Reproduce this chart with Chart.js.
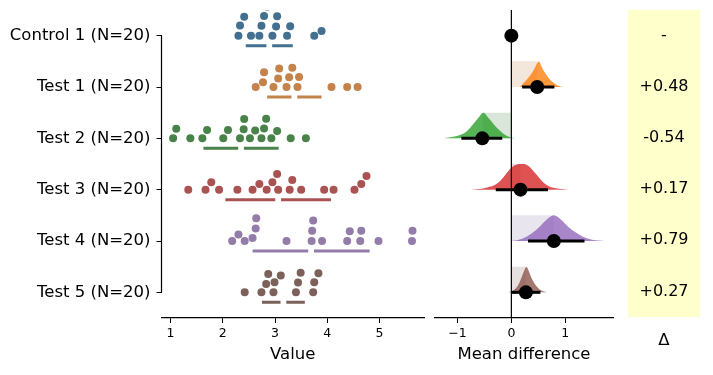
<!DOCTYPE html>
<html>
<head>
<meta charset="utf-8">
<script src="https://cdn.jsdelivr.net/npm/chart.js@4.4.1/dist/chart.umd.min.js"></script>
<style>
  body { margin: 0; background: #fff; }
  #wrap { position: relative; width: 713px; height: 375px; }
  canvas { position: absolute; top: 0; }
</style>
</head>
<body>
<div id="wrap">
  <canvas id="swarmChart" width="428" height="375" style="left:0px"></canvas>
  <canvas id="diffChart" width="192" height="375" style="left:428px"></canvas>
  <canvas id="deltaChart" width="93" height="375" style="left:620px"></canvas>
</div>
<script>
Chart.defaults.font.family = 'DejaVu Sans';
Chart.defaults.color = '#000';
Chart.defaults.animation = false;

// groups
var groupNames = ['Control 1', 'Test 1', 'Test 2', 'Test 3', 'Test 4', 'Test 5'];
var groupSizes = [20, 20, 20, 20, 20, 20];

var control1 = [2.30, 2.33, 2.41, 2.54, 2.70, 2.74, 2.79, 2.85, 2.95, 3.02, 3.04, 3.23, 3.29, 3.75, 3.89];
var test1 = [2.63, 2.77, 2.79, 2.97, 3.06, 3.08, 3.22, 3.27, 3.33, 3.43, 3.46, 4.08, 4.38, 4.58];
var test2 = [1.05, 1.11, 1.38, 1.61, 1.70, 2.01, 2.10, 2.33, 2.40, 2.41, 2.52, 2.62, 2.74, 2.79, 2.83, 2.93, 3.04, 3.30, 3.59];
var test3 = [1.34, 1.67, 1.78, 1.93, 2.28, 2.57, 2.70, 2.84, 2.95, 3.04, 3.06, 3.28, 3.33, 3.50, 3.94, 4.12, 4.52, 4.65, 4.75];
var test4 = [2.18, 2.30, 2.42, 2.57, 2.63, 2.64, 3.22, 3.70, 3.71, 3.73, 3.90, 4.38, 4.43, 4.63, 4.65, 4.98, 5.62, 5.63];
var test5 = [2.42, 2.74, 2.83, 2.87, 2.97, 2.99, 3.11, 3.40, 3.44, 3.49, 3.73, 3.75, 3.83];

// mean +/- sd per group
var groupMeans = [2.89, 3.37, 2.35, 3.06, 3.69, 3.16];
var groupSds = [0.45, 0.52, 0.72, 1.01, 1.12, 0.41];

// mean difference vs Control 1, with 95% CI
var meanDiffs = [0.48, -0.54, 0.17, 0.79, 0.27];
var ciLow = [0.20, -0.93, -0.29, 0.31, 0.00];
var ciHigh = [0.80, -0.17, 0.68, 1.36, 0.54];

// bootstrap distributions: [difference, relative density]
var dist1 = [[0.16, 0], [0.25, 0.2], [0.33, 0.4], [0.40, 0.6], [0.45, 0.8], [0.51, 1], [0.56, 0.8], [0.61, 0.6], [0.68, 0.38], [0.76, 0.2], [0.86, 0.06], [0.97, 0]];
var dist2 = [[-1.26, 0], [-1.08, 0.06], [-0.88, 0.2], [-0.80, 0.33], [-0.73, 0.5], [-0.62, 0.78], [-0.52, 1], [-0.42, 0.78], [-0.31, 0.5], [-0.23, 0.33], [-0.16, 0.2], [-0.05, 0.06], [0.08, 0]];
var dist3 = [[-0.75, 0], [-0.55, 0.04], [-0.42, 0.1], [-0.30, 0.19], [-0.20, 0.36], [-0.11, 0.58], [0.0, 0.85], [0.10, 0.98], [0.19, 1], [0.28, 0.97], [0.38, 0.8], [0.47, 0.58], [0.56, 0.36], [0.65, 0.19], [0.78, 0.07], [1.05, 0]];
var dist4 = [[-0.02, 0], [0.12, 0.04], [0.28, 0.17], [0.40, 0.33], [0.52, 0.55], [0.65, 0.82], [0.79, 1], [0.93, 0.82], [1.06, 0.55], [1.20, 0.33], [1.33, 0.17], [1.50, 0.05], [1.74, 0]];
var dist5 = [[-0.07, 0], [0.03, 0.07], [0.12, 0.26], [0.19, 0.58], [0.24, 0.85], [0.28, 1], [0.32, 0.85], [0.37, 0.58], [0.46, 0.26], [0.56, 0.07], [0.67, 0]];

var swarmValues = [control1, test1, test2, test3, test4, test5];
var dists = [dist1, dist2, dist3, dist4, dist5];

var swarmColors = ['rgb(68,112,143)', 'rgb(195,131,74)', 'rgb(73,131,73)', 'rgb(170,83,83)', 'rgb(147,125,168)', 'rgb(124,97,91)'];
var ghostColors = ['rgba(68,112,143,0.2)', 'rgba(195,131,74,0.2)', 'rgba(73,131,73,0.2)', 'rgba(170,83,83,0.2)', 'rgba(147,125,168,0.2)', 'rgba(124,97,91,0.2)'];
var violinColors = ['rgba(31,119,180,0.8)', 'rgba(255,127,14,0.8)', 'rgba(44,160,44,0.8)', 'rgba(214,39,40,0.8)', 'rgba(148,103,189,0.8)', 'rgba(140,86,75,0.8)'];

var PX_PER_VALUE = 52.27, PX_PER_ROW = 51.33;
var DOT = 8.2, STRETCH = 1.25;
var GAP = 0.055;       // half gap in the mean/sd bar
var VIOLIN_H = 0.5;    // violin peak height in row units

// one-sided beeswarm: stack dots upward, lowest free slot first
function swarmOffsets(values) {
    var order = values.map(function (v, i) { return i; })
        .sort(function (a, b) { return values[a] - values[b]; });
    var placed = [];
    var offs = [];
    order.forEach(function (i) {
        var x = values[i] * PX_PER_VALUE;
        var cands = [0];
        placed.forEach(function (p) {
            var dx = Math.abs(p.x - x);
            if (dx < DOT) cands.push(p.y + STRETCH * Math.sqrt(DOT * DOT - dx * dx));
        });
        cands.sort(function (a, b) { return a - b; });
        var y = cands.find(function (c) {
            return placed.every(function (p) {
                var dx = p.x - x, dy = (p.y - c) / STRETCH;
                return dx * dx + dy * dy >= DOT * DOT - 0.01;
            });
        });
        placed.push({ x: x, y: y });
        offs[i] = y / PX_PER_ROW;
    });
    return offs;
}

// ---------- left panel: swarm ----------
var swarmSets = [];
swarmValues.forEach(function (vals, g) {
    var offs = swarmOffsets(vals);
    swarmSets.push({
        type: 'scatter',
        data: vals.map(function (v, i) { return { x: v, y: g - offs[i] }; }),
        backgroundColor: swarmColors[g],
        borderWidth: 0,
        pointRadius: 4,
        order: 1
    });
    var m = groupMeans[g], s = groupSds[g], yb = g + 0.195;
    swarmSets.push({
        type: 'line',
        data: [{ x: m - s, y: yb }, { x: m - GAP, y: yb }, { x: m, y: null }, { x: m + GAP, y: yb }, { x: m + s, y: yb }],
        borderColor: swarmColors[g],
        borderWidth: 3,
        borderCapStyle: 'butt',
        pointRadius: 0,
        spanGaps: false,
        order: 2
    });
});

var leftSpine = {
    id: 'leftSpine',
    afterDraw: function (chart) {
        var ys = chart.scales.y, ctx = chart.ctx, x = chart.chartArea.left;
        ctx.save();
        ctx.strokeStyle = '#000';
        ctx.lineWidth = 1.2;
        ctx.beginPath();
        ctx.moveTo(x, ys.getPixelForValue(0));
        ctx.lineTo(x, ys.getPixelForValue(groupNames.length - 1));
        ctx.stroke();
        ctx.restore();
    }
};

new Chart(document.getElementById('swarmChart'), {
    type: 'scatter',
    data: { datasets: swarmSets },
    options: {
        responsive: false,
        devicePixelRatio: 1,
        layout: { padding: { top: 10, right: 4, left: 0, bottom: 0 } },
        plugins: { legend: { display: false }, tooltip: { enabled: false } },
        scales: {
            x: {
                type: 'linear', min: 0.828, max: 5.85,
                afterBuildTicks: function (scale) { scale.ticks = [1, 2, 3, 4, 5].map(function (v) { return { value: v }; }); },
                afterFit: function (scale) { scale.height = 57; scale.paddingLeft = 0; scale.paddingRight = 0; },
                grid: { drawOnChartArea: false, drawTicks: true, tickLength: 5, color: '#000' },
                border: { display: true, color: '#000', width: 1.2 },
                ticks: { font: { size: 12.5 }, padding: 3, autoSkip: false, maxRotation: 0 },
                title: { display: true, text: 'Value', font: { size: 16.5 }, padding: { top: 0, bottom: 10 } }
            },
            y: {
                type: 'linear', min: -0.5, max: 5.5, reverse: true,
                afterBuildTicks: function (scale) { scale.ticks = groupNames.map(function (n, i) { return { value: i }; }); },
                afterFit: function (scale) { scale.width = 161.5; scale.paddingTop = 0; scale.paddingBottom = 0; },
                grid: { drawOnChartArea: false, drawTicks: true, tickLength: 5, color: '#000' },
                border: { display: false },
                ticks: {
                    font: { size: 16.5 }, padding: 6, autoSkip: false,
                    callback: function (v) { return groupNames[v] + ' (N=' + groupSizes[v] + ')'; }
                }
            }
        }
    },
    plugins: [leftSpine]
});

// ---------- middle panel: mean differences ----------
var diffSets = [];
dists.forEach(function (d, k) {
    var row = k + 1;
    diffSets.push({
        type: 'line',
        data: [{ x: 0, y: row - VIOLIN_H }, { x: meanDiffs[k], y: row - VIOLIN_H }],
        borderColor: 'rgba(0,0,0,0)', borderWidth: 0, pointRadius: 0,
        fill: { value: row }, backgroundColor: ghostColors[row],
        order: 5
    });
    diffSets.push({
        type: 'line',
        data: d.map(function (p) { return { x: p[0], y: row - p[1] * VIOLIN_H }; }),
        borderColor: 'rgba(0,0,0,0)', borderWidth: 0, pointRadius: 0,
        cubicInterpolationMode: 'monotone',
        fill: { value: row }, backgroundColor: violinColors[row],
        order: 4
    });
    diffSets.push({
        type: 'line',
        data: [{ x: ciLow[k], y: row }, { x: ciHigh[k], y: row }],
        borderColor: '#000', borderWidth: 3, borderCapStyle: 'butt', pointRadius: 0,
        order: 2
    });
});
diffSets.push({
    type: 'line',
    data: [{ x: 0, y: -0.5 }, { x: 0, y: 5.5 }],
    borderColor: '#000', borderWidth: 1.2, pointRadius: 0,
    order: 3
});
diffSets.push({
    type: 'scatter',
    data: [{ x: 0, y: 0 }].concat(meanDiffs.map(function (v, k) { return { x: v, y: k + 1 }; })),
    backgroundColor: '#000', borderWidth: 0, pointRadius: 7,
    order: 1
});

new Chart(document.getElementById('diffChart'), {
    type: 'scatter',
    data: { datasets: diffSets },
    options: {
        responsive: false,
        devicePixelRatio: 1,
        layout: { padding: { top: 10, right: 4, left: 4.7, bottom: 0 } },
        plugins: { legend: { display: false }, tooltip: { enabled: false } },
        scales: {
            x: {
                type: 'linear', min: -1.42, max: 1.89,
                afterBuildTicks: function (scale) { scale.ticks = [-1, 0, 1].map(function (v) { return { value: v }; }); },
                afterFit: function (scale) { scale.height = 57; },
                grid: { drawOnChartArea: false, drawTicks: true, tickLength: 5, color: '#000' },
                border: { display: true, color: '#000', width: 1.2 },
                ticks: {
                    font: { size: 12.5 }, padding: 3, autoSkip: false, maxRotation: 0,
                    callback: function (v) { return v < 0 ? '\u2212' + Math.abs(v) : String(v); }
                },
                title: { display: true, text: 'Mean difference', font: { size: 16.5 }, padding: { top: 0, bottom: 10 } }
            },
            y: { type: 'linear', min: -0.5, max: 5.5, reverse: true, display: false }
        }
    }
});

// ---------- right panel: delta column ----------
var deltaLabels = ['-'].concat(meanDiffs.map(function (v) { return (v > 0 ? '+' : '') + v.toFixed(2); }));

var deltaPanel = {
    id: 'deltaPanel',
    beforeDraw: function (chart) {
        var a = chart.chartArea, ctx = chart.ctx;
        ctx.save();
        ctx.fillStyle = '#ffffcc';
        ctx.fillRect(a.left, a.top, a.right - a.left, a.bottom - a.top);
        ctx.restore();
    },
    afterDraw: function (chart) {
        var a = chart.chartArea, ctx = chart.ctx, ys = chart.scales.y;
        ctx.save();
        ctx.fillStyle = '#000';
        ctx.font = '16px "DejaVu Sans"';
        ctx.textAlign = 'center';
        ctx.textBaseline = 'middle';
        deltaLabels.forEach(function (t, i) {
            ctx.fillText(t, (a.left + a.right) / 2, ys.getPixelForValue(i));
        });
        ctx.restore();
    }
};

new Chart(document.getElementById('deltaChart'), {
    type: 'scatter',
    data: { datasets: [] },
    options: {
        responsive: false,
        devicePixelRatio: 1,
        layout: { padding: { top: 10, right: 13, left: 8, bottom: 0 } },
        plugins: { legend: { display: false }, tooltip: { enabled: false } },
        scales: {
            x: {
                type: 'linear', min: 0, max: 1,
                afterFit: function (scale) { scale.height = 58; },
                grid: { display: false },
                border: { display: false },
                ticks: { display: false },
                title: { display: true, text: 'Δ', font: { size: 16.5 }, padding: { top: 0, bottom: 24 } }
            },
            y: { type: 'linear', min: -0.5, max: 5.5, reverse: true, display: false }
        }
    },
    plugins: [deltaPanel]
});
</script>
</body>
</html>
